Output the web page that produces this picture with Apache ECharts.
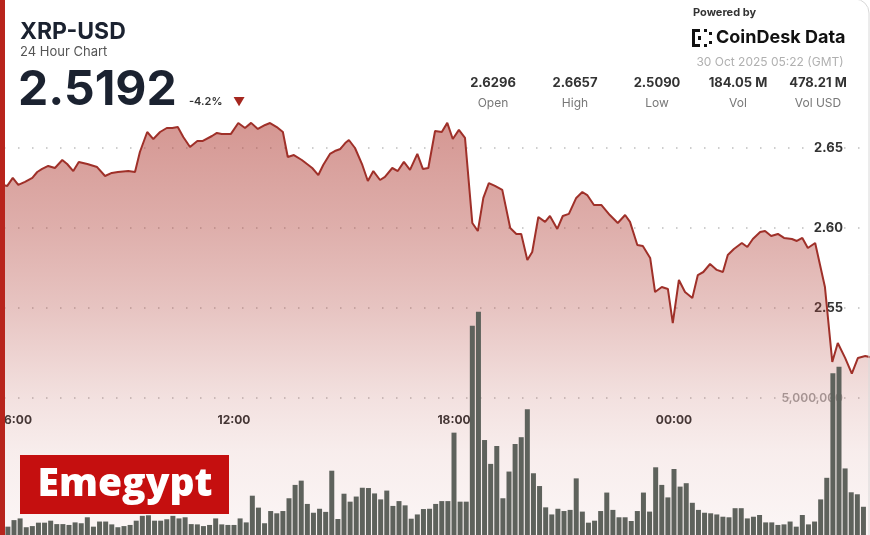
<!DOCTYPE html>
<html>
<head>
<meta charset="utf-8">
<script src="https://cdn.jsdelivr.net/npm/echarts@6/dist/echarts.min.js"></script>
<style>
  html, body { margin: 0; padding: 0; background: #fff; }
  #chart { width: 870px; height: 535px; }
</style>
</head>
<body>
<div id="chart"></div>
<script>
// 价格折线：时间为 10/29 00:00 起的分钟数
const priceMinutes = [
  322, 342, 349, 358, 367, 378, 390, 398, 406, 416, 427, 439, 447, 457, 466, 480, 496, 509, 520, 530,
  547, 558, 566, 578, 588, 599, 610, 619, 628, 637, 648, 660, 669, 684, 692, 700, 715, 727, 738, 748,
  759, 771, 779, 790, 800, 808, 818, 831, 848, 858, 866, 877, 885, 894, 902, 908, 918, 930, 939, 948,
  959, 967, 979, 988, 998, 1008, 1020, 1029, 1038, 1049, 1060, 1069, 1078, 1088, 1098, 1110, 1119, 1128, 1137, 1147,
  1159, 1172, 1182, 1190, 1200, 1208, 1218, 1229, 1237, 1249, 1258, 1268, 1280, 1290, 1298, 1309, 1321, 1335, 1348, 1360,
  1368, 1380, 1389, 1401, 1409, 1420, 1430, 1438, 1448, 1458, 1470, 1479, 1488, 1499, 1510, 1520, 1528, 1538, 1551, 1560,
  1569, 1581, 1589, 1599, 1610, 1620, 1633, 1641, 1650, 1659, 1671, 1687, 1699, 1708, 1720, 1731, 1741, 1753, 1762
];
const prices = [
  2.6296, 2.6269, 2.6263, 2.6313, 2.6269, 2.6288, 2.6313, 2.6350, 2.6369, 2.6388, 2.6375, 2.6425, 2.6400, 2.6356, 2.6413, 2.6400, 2.6381, 2.6325, 2.6344, 2.6350,
  2.6356, 2.6350, 2.6475, 2.6600, 2.6556, 2.6600, 2.6625, 2.6625, 2.6631, 2.6569, 2.6506, 2.6544, 2.6544, 2.6575, 2.6594, 2.6588, 2.6588, 2.6656, 2.6625, 2.6657,
  2.6619, 2.6644, 2.6656, 2.6631, 2.6600, 2.6444, 2.6456, 2.6425, 2.6375, 2.6331, 2.6394, 2.6463, 2.6481, 2.6494, 2.6531, 2.6550, 2.6500, 2.6394, 2.6294, 2.6356,
  2.6300, 2.6319, 2.6375, 2.6356, 2.6413, 2.6363, 2.6463, 2.6369, 2.6375, 2.6606, 2.6600, 2.6657, 2.6556, 2.6613, 2.6563, 2.6031, 2.5981, 2.6188, 2.6281, 2.6263,
  2.6238, 2.6000, 2.5963, 2.5963, 2.5800, 2.5850, 2.6069, 2.6038, 2.6075, 2.5994, 2.6075, 2.6088, 2.6188, 2.6225, 2.6206, 2.6144, 2.6144, 2.6081, 2.6031, 2.6081,
  2.6038, 2.5894, 2.5888, 2.5813, 2.5600, 2.5631, 2.5619, 2.5406, 2.5675, 2.5600, 2.5563, 2.5706, 2.5725, 2.5775, 2.5738, 2.5725, 2.5831, 2.5869, 2.5906, 2.5881,
  2.5931, 2.5975, 2.5981, 2.5950, 2.5963, 2.5938, 2.5931, 2.5919, 2.5938, 2.5875, 2.5906, 2.5631, 2.5163, 2.5281, 2.5188, 2.5090, 2.5188, 2.5200, 2.5192
];

// 10 分钟成交量（百万），第一根柱子从 05:40 开始
const volStartMinute = 340;
const volumes = [
  1.06, 0.47, 0.70, 0.76, 0.45, 0.49, 0.61, 0.61, 0.68, 0.56,
  0.56, 0.53, 0.62, 0.59, 0.80, 0.47, 0.65, 0.65, 0.55, 0.45,
  0.49, 0.53, 0.68, 0.85, 0.87, 0.68, 0.68, 0.73, 0.85, 0.76,
  0.80, 0.56, 0.55, 0.49, 0.53, 0.76, 0.55, 0.53, 0.53, 0.76,
  0.62, 1.56, 1.14, 0.59, 1.02, 0.94, 1.02, 1.47, 1.94, 2.09,
  1.27, 0.96, 1.10, 0.99, 2.44, 0.74, 1.63, 1.35, 1.53, 1.84,
  1.83, 1.64, 1.43, 1.74, 1.20, 1.37, 1.22, 0.75, 0.90, 1.09,
  1.10, 1.27, 1.37,
  1.37, 3.78, 1.35, 1.35, 7.54, 8.04, 3.52, 2.68, 3.31, 1.47,
  2.41, 3.38, 3.62, 4.60, 2.35, 1.90, 1.15, 0.90, 1.10, 1.02,
  1.06, 2.17, 1.00, 0.61, 0.68, 1.02, 1.67, 1.06, 0.80, 0.80,
  0.67, 1.02, 1.67, 1.00, 2.56, 1.94, 1.50, 2.50, 1.88, 2.00,
  1.31, 1.06, 0.96, 0.94, 0.90, 0.82, 0.80, 1.12, 1.12, 0.76,
  0.82, 0.88, 0.62, 0.62, 0.53, 0.55, 0.65, 0.47, 0.88, 0.55,
  0.65, 1.43, 2.19, 5.87, 6.10, 2.52, 1.68, 1.61, 1.17
];

// 头部统计
const statValues = ['2.6296', '2.6657', '2.5090', '184.05 M', '478.21 M'];
const statNames = ['Open', 'High', 'Low', 'Vol', 'Vol USD'];
const statCenters = [493, 575, 657, 738, 818];

const FONT = 'Inter, "Noto Sans", sans-serif';
const dotColor = 'rgba(110,110,110,0.45)';
const pad = n => (n < 10 ? '0' : '') + n;
const fill = a => 'rgba(180,70,62,' + a + ')';

const chart = echarts.init(document.getElementById('chart'));

// 头部文字等
const graphics = [
  { type: 'text', x: 20, y: 32, style: { text: 'XRP-USD', font: 'bold 23px ' + FONT, fill: '#1b2230', verticalAlign: 'middle' } },
  { type: 'text', x: 20, y: 52, style: { text: '24 Hour Chart', font: '13px ' + FONT, fill: '#555', verticalAlign: 'middle' } },
  { type: 'text', x: 18, y: 91, style: { text: '2.5192', font: 'bold 48px ' + FONT, fill: '#1b2230', verticalAlign: 'middle' } },
  { type: 'text', x: 189, y: 102, style: { text: '-4.2%', font: '600 11px ' + FONT, fill: '#333', verticalAlign: 'middle' } },
  { type: 'text', x: 233, y: 102, style: { text: '▼', font: '12px ' + FONT, fill: '#a5271f', verticalAlign: 'middle' } },
  { type: 'text', x: 693, y: 13, style: { text: 'Powered by', font: 'bold 11px ' + FONT, fill: '#333', verticalAlign: 'middle' } },
  { type: 'text', x: 716, y: 38, style: { text: 'CoinDesk Data', font: 'bold 18px ' + FONT, fill: '#111', verticalAlign: 'middle' } },
  { type: 'text', x: 770, y: 62, style: { text: '30 Oct 2025 05:22 (GMT)', font: '12px ' + FONT, fill: '#b0b0b0', textAlign: 'center', verticalAlign: 'middle' } },
  // CoinDesk 小图标
  { type: 'rect', shape: { x: 692, y: 29, width: 3, height: 18 }, style: { fill: '#111' } },
  { type: 'rect', shape: { x: 692, y: 29, width: 8, height: 3 }, style: { fill: '#111' } },
  { type: 'rect', shape: { x: 692, y: 44, width: 8, height: 3 }, style: { fill: '#111' } },
  { type: 'rect', shape: { x: 698, y: 36, width: 3, height: 4 }, style: { fill: '#111' } },
  { type: 'rect', shape: { x: 704, y: 29, width: 3, height: 3 }, style: { fill: '#111' } },
  { type: 'rect', shape: { x: 704, y: 44, width: 3, height: 3 }, style: { fill: '#111' } },
  { type: 'rect', shape: { x: 709, y: 32, width: 3, height: 3 }, style: { fill: '#111' } },
  { type: 'rect', shape: { x: 709, y: 41, width: 3, height: 3 }, style: { fill: '#111' } },
  // 水印
  { type: 'rect', z: 100, shape: { x: 20, y: 455, width: 209, height: 59 }, style: { fill: '#c50f0f' } },
  { type: 'text', z: 101, x: 125, y: 485, style: { text: 'Emegypt', font: '800 39px "Open Sans", ' + FONT, fill: '#fff', textAlign: 'center', verticalAlign: 'middle' } },
  // 边框
  { type: 'rect', z: 100, shape: { x: -20, y: -1, width: 889, height: 600, r: 14 }, style: { fill: null, stroke: '#d8d8d8', lineWidth: 1 } },
  { type: 'rect', z: 101, shape: { x: 0, y: 0, width: 5, height: 535 }, style: { fill: '#b8241c' } }
];
statValues.forEach((v, i) => {
  graphics.push({ type: 'text', x: statCenters[i], y: 83, style: { text: v, font: 'bold 13px ' + FONT, fill: '#333', textAlign: 'center', verticalAlign: 'middle' } });
  graphics.push({ type: 'text', x: statCenters[i], y: 103, style: { text: statNames[i], font: '12px ' + FONT, fill: '#777', textAlign: 'center', verticalAlign: 'middle' } });
});

const option = {
  animation: false,
  backgroundColor: '#fff',
  grid: [
    { left: -206, right: -24, top: 68, height: 480, outerBoundsMode: 'none', containLabel: false },
    { left: -206, right: -24, top: 256, height: 284, outerBoundsMode: 'none', containLabel: false }
  ],
  xAxis: [
    {
      type: 'value', gridIndex: 0, min: 0, max: 1800, interval: 360, offset: -142,
      axisLine: { show: false }, axisTick: { show: false }, splitLine: { show: false },
      axisLabel: {
        margin: 8, color: '#333', fontWeight: 'bold', fontSize: 12, fontFamily: FONT,
        formatter: v => pad(Math.floor(v / 60) % 24) + ':00'
      }
    },
    { type: 'value', gridIndex: 1, min: 0, max: 1800, show: false }
  ],
  yAxis: [
    {
      type: 'value', gridIndex: 0, position: 'right', min: 2.40, max: 2.70, interval: 0.05,
      axisLine: { show: false }, axisTick: { show: false },
      splitLine: {
        show: true,
        lineStyle: {
          type: [1.5, 12.5], width: 1.5,
          color: ['transparent', 'transparent', 'transparent', dotColor, dotColor, dotColor, 'transparent']
        }
      },
      axisLabel: {
        inside: true, margin: 51, color: '#333', fontWeight: 'bold', fontSize: 13, fontFamily: FONT,
        formatter: v => (v > 2.549 && v < 2.651 ? v.toFixed(2) : '')
      }
    },
    {
      type: 'value', gridIndex: 1, position: 'right', min: 0, max: 10, interval: 5,
      axisLine: { show: false }, axisTick: { show: false },
      splitLine: {
        show: true,
        lineStyle: { type: [1.5, 12.5], width: 1.5, color: ['transparent', dotColor, 'transparent'] }
      },
      axisLabel: {
        inside: true, margin: 51, color: '#a3a3a3', fontWeight: 600, fontSize: 12, fontFamily: FONT,
        formatter: v => (v === 5 ? '5,000,000' : '')
      }
    }
  ],
  series: [
    {
      type: 'line', xAxisIndex: 0, yAxisIndex: 0, z: 2,
      data: priceMinutes.map((m, i) => [m, prices[i]]),
      symbol: 'none',
      lineStyle: { color: '#9f3029', width: 2 },
      areaStyle: {
        color: new echarts.graphic.LinearGradient(0, 0, 0, 1, [
          { offset: 0, color: fill(0.8) },
          { offset: 0.25, color: fill(0.62) },
          { offset: 0.44, color: fill(0.45) },
          { offset: 0.65, color: fill(0.23) },
          { offset: 0.77, color: fill(0.14) },
          { offset: 1, color: fill(0.06) }
        ])
      }
    },
    {
      type: 'bar', xAxisIndex: 1, yAxisIndex: 1, z: 3,
      data: volumes.map((v, i) => [volStartMinute + 10 * i, v]),
      barWidth: 5,
      itemStyle: { color: '#5e625c' }
    }
  ],
  graphic: graphics
};

chart.setOption(option);
</script>
</body>
</html>
